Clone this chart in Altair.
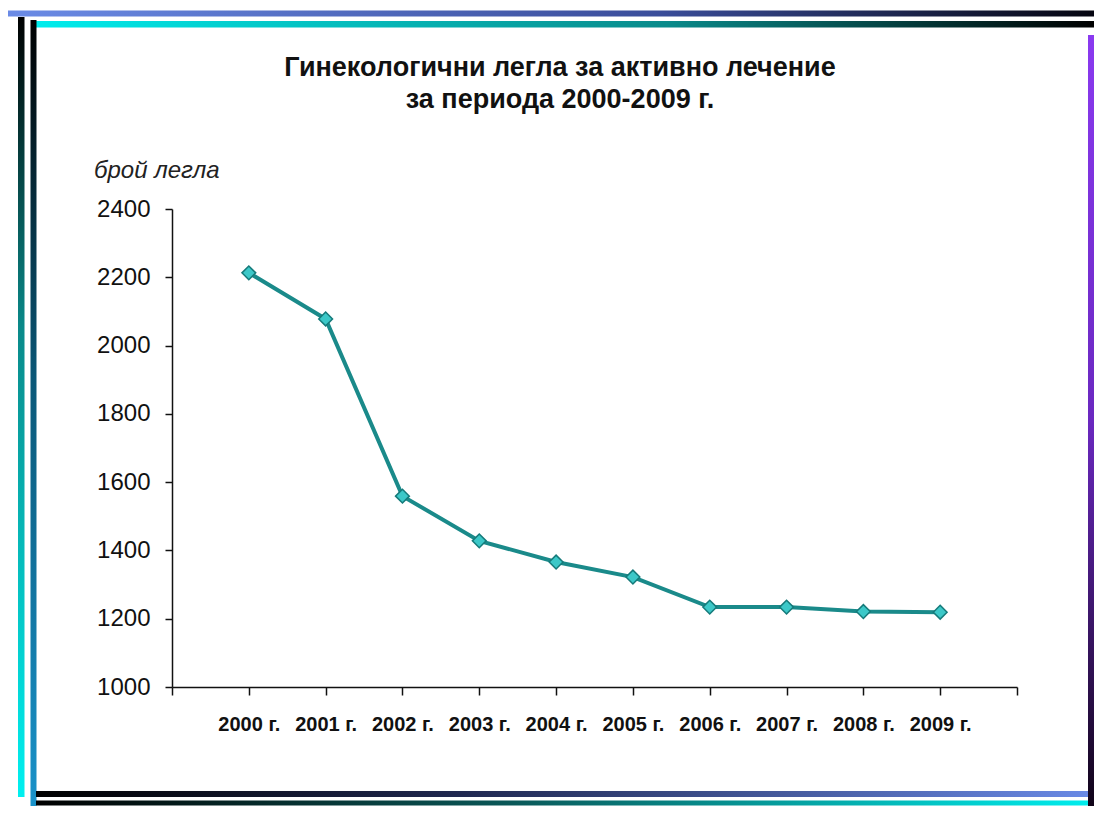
import altair as alt
import pandas as pd

# ---- data ----
years = [2000, 2001, 2002, 2003, 2004, 2005, 2006, 2007, 2008, 2009]
beds = [2213, 2078, 1559, 1428, 1366, 1322, 1234, 1234, 1221, 1219]
y_ticks = [1000, 1200, 1400, 1600, 1800, 2000, 2200, 2400]
x_ticks = [1999, 2000, 2001, 2002, 2003, 2004, 2005, 2006, 2007, 2008, 2009, 2010]
title_lines = ["Гинекологични легла за активно лечение", "за периода 2000-2009 г."]
y_title = "брой легла"

df = pd.DataFrame({"year": years, "beds": beds})
one = pd.DataFrame({"k": [0]})

W, H = 845, 478
PL, PT = 164, 201  # page offset of plot = 8 + padding
TOTAL_W, TOTAL_H = 1086, 798


def px(page_x):
    return page_x - 8 - PL


def py(page_y):
    return page_y - 8 - PT


def grad(stops, horizontal=True):
    return {
        "gradient": "linear",
        "x1": 0, "y1": 0,
        "x2": 1 if horizontal else 0,
        "y2": 0 if horizontal else 1,
        "stops": [{"offset": o, "color": c} for o, c in stops],
    }


def bar(x0, x1, y0, y1, g):
    return alt.Chart(one).mark_rect(color=g).encode(
        x=alt.value(px(x0)), x2=alt.value(px(x1)),
        y=alt.value(py(y0)), y2=alt.value(py(y1)),
    )


deco = [
    bar(6, 1094, 10.5, 16.5, grad([(0, "#6b8be6"), (0.6, "#3a4d9a"), (1, "#050510")])),
    bar(33, 1094, 21, 27.5, grad([(0, "#00eded"), (0.6, "#0a8a8a"), (1, "#000000")])),
    bar(18, 24.5, 17, 797, grad([(0, "#000000"), (0.4, "#0a8a8a"), (1, "#00f0f0")], False)),
    bar(30.5, 36.5, 20, 818, grad([(0, "#000000"), (0.45, "#0a5878"), (1, "#1a94cc")], False)),
    bar(36, 1094, 791, 797, grad([(0, "#000000"), (0.4, "#202850"), (1, "#6a8ae6")])),
    bar(36, 1094, 800.5, 805.5, grad([(0, "#000000"), (0.45, "#0a5858"), (1, "#00eeee")])),
    bar(1088, 1094, 35, 806, grad([(0, "#8a3af0"), (0.5, "#6a28c0"), (1, "#100418")], False)),
]

x_enc = alt.X(
    "year:Q",
    scale=alt.Scale(domain=[1999, 2010], nice=False, zero=False),
    axis=alt.Axis(
        values=x_ticks,
        title=None,
        grid=False,
        labelExpr="datum.value >= 2000 && datum.value <= 2009 ? datum.value + ' г.' : ''",
        labelFont="Liberation Sans",
        labelFontWeight="bold",
        labelFontSize=20,
        labelPadding=19,
        labelColor="#111111",
        tickSize=8,
    ),
)
y_enc = alt.Y(
    "beds:Q",
    scale=alt.Scale(domain=[1000, 2400], nice=False, zero=False),
    axis=alt.Axis(
        values=y_ticks,
        title=None,
        grid=False,
        format="d",
        labelFont="Liberation Sans",
        labelFontSize=24,
        labelPadding=15,
        labelColor="#111111",
        tickSize=7,
    ),
)

line = alt.Chart(df).mark_line(color="#1a8a8a", strokeWidth=4).encode(x=x_enc, y=y_enc)
pts = alt.Chart(df).mark_point(
    shape="diamond", size=190, filled=True, fill="#3cc8c8", stroke="#157a7a", strokeWidth=1.5, opacity=1
).encode(x="year:Q", y="beds:Q")

t1 = alt.Chart(one).mark_text(
    text=title_lines[0], font="Liberation Sans", fontSize=27, fontWeight="bold",
    color="#111111", align="center", baseline="alphabetic",
).encode(x=alt.value(px(560)), y=alt.value(py(76)))
t2 = alt.Chart(one).mark_text(
    text=title_lines[1], font="Liberation Sans", fontSize=27, fontWeight="bold",
    color="#111111", align="center", baseline="alphabetic",
).encode(x=alt.value(px(560)), y=alt.value(py(108)))
yt = alt.Chart(one).mark_text(
    text=y_title, font="Liberation Sans", fontSize=24, fontStyle="italic",
    color="#222222", align="left", baseline="alphabetic",
).encode(x=alt.value(px(94)), y=alt.value(py(178)))

chart = alt.layer(*deco, line, pts, t1, t2, yt).properties(
    width=W, height=H,
    padding={"left": PL, "top": PT, "right": TOTAL_W - PL - W, "bottom": TOTAL_H - PT - H},
    autosize=alt.AutoSizeParams(type="none"),
    background="white",
).configure_view(stroke=None).configure_axis(
    domainColor="#111111", domainWidth=1.5, tickColor="#111111", tickWidth=1.5,
)

chart.save("out.html", embed_options={"renderer": "svg", "actions": False})
